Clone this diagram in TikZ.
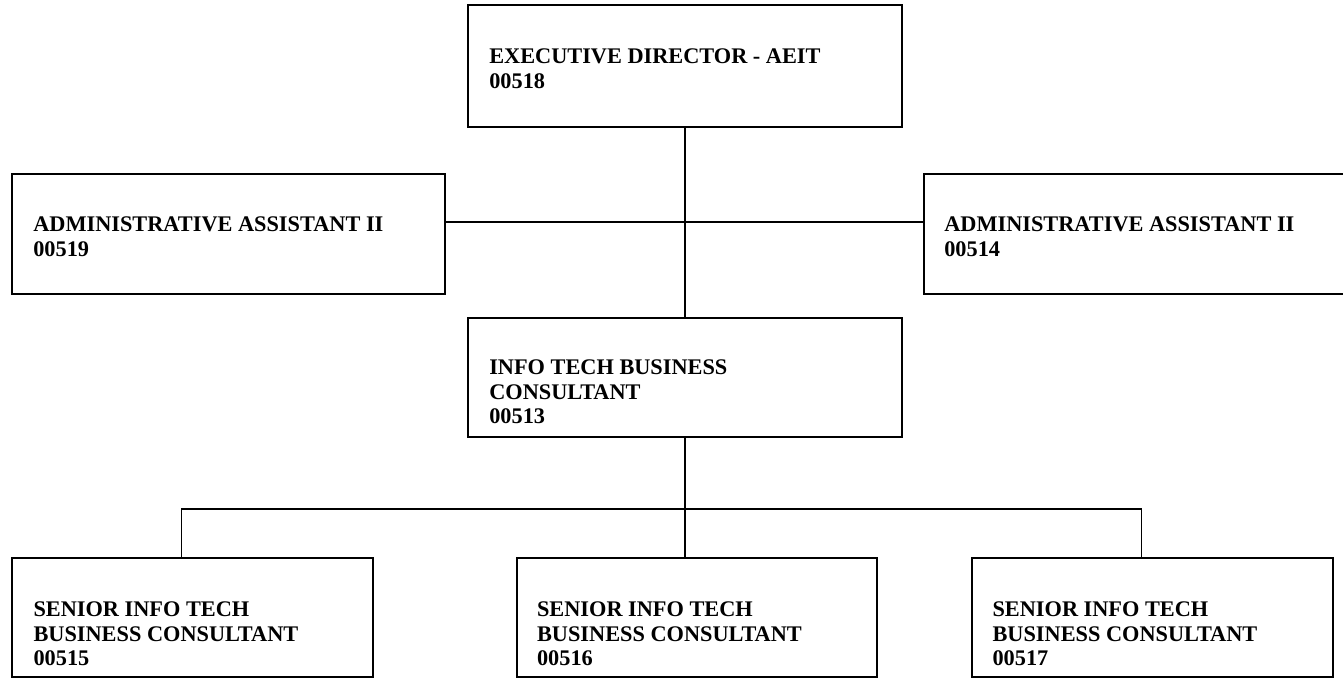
\documentclass[tikz,border=0pt]{standalone}
\usepackage{fontspec}
\setmainfont{Liberation Serif}
\usetikzlibrary{positioning}
\tikzset{
    % position box (empty, text goes in a separate node)
    post/.style={rectangle, draw=black, line width=1.2pt, inner sep=0pt,
        minimum height=2.38cm},
    widepost/.style={post, minimum width=8.68cm},
    sidepost/.style={post, minimum width=8.66cm, minimum height=2.40cm},
    narrowpost/.style={post, minimum width=7.21cm},
    % job title and number
    ptext/.style={inner sep=0pt, align=left,
        font=\fontsize{12.7pt}{14.2pt}\selectfont\bfseries},
    % reporting line
    link/.style={line width=0.8pt, draw=black},
}

\begin{document}
\begin{tikzpicture}
  \useasboundingbox (0,0) rectangle (26.86,-13.56);
  % boxes
  \node[widepost, minimum height=2.44cm] (exec) at (13.70,-1.32) {};
  \node[sidepost] (asstL) at (4.57,-4.68) {};
  \node[sidepost] (asstR) at (22.81,-4.68) {};
  \node[widepost] (itbc) at (13.70,-7.55) {};
  \node[narrowpost] (sitbcA) at (3.85,-12.35) {};
  \node[narrowpost] (sitbcB) at (13.94,-12.35) {};
  \node[narrowpost] (sitbcC) at (23.05,-12.35) {};

  % titles
  \node[ptext, below right=0.88cm and 0.44cm of exec.north west] (execT)
       {EXECUTIVE DIRECTOR - AEIT\\00518};
  \node[ptext, below right=0.86cm and 0.44cm of asstL.north west] (asstLT)
       {ADMINISTRATIVE ASSISTANT II\\00519};
  \node[ptext, below right=0.86cm and 0.42cm of asstR.north west] (asstRT)
       {ADMINISTRATIVE ASSISTANT II\\00514};
  \node[ptext, below right=0.84cm and 0.44cm of itbc.north west] (itbcT)
       {INFO TECH BUSINESS\\CONSULTANT\\00513};
  \node[ptext, below right=0.88cm and 0.44cm of sitbcA.north west] (sitbcAT)
       {SENIOR INFO TECH\\BUSINESS CONSULTANT\\00515};
  \node[ptext, below right=0.88cm and 0.42cm of sitbcB.north west] (sitbcBT)
       {SENIOR INFO TECH\\BUSINESS CONSULTANT\\00516};
  \node[ptext, below right=0.88cm and 0.42cm of sitbcC.north west] (sitbcCT)
       {SENIOR INFO TECH\\BUSINESS CONSULTANT\\00517};

  % reporting lines
  \draw[link] (exec.south) -- (itbc.north);
  \draw[link] ([yshift=2.4mm]asstL.east) -- ([yshift=2.4mm]asstR.west);
  \draw[link] (itbc.south) -- (itbc.south |- sitbcB.north);
  \draw[link] ([xshift=-2.2mm]sitbcA.north) -- ++(0,0.96)
              -| ([xshift=-2.2mm]sitbcC.north);
\end{tikzpicture}
\end{document}
